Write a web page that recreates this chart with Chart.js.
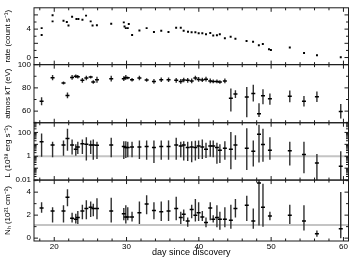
<!DOCTYPE html>
<html>
<head>
<meta charset="utf-8">
<script src="https://cdn.jsdelivr.net/npm/chart.js@4/dist/chart.umd.min.js"></script>
<style>
html, body { margin: 0; padding: 0; background: #fff; }
</style>
</head>
<body>
<canvas id="c" width="354" height="259"></canvas>
<script>
// light curve (top panel)
const lcDays = [18.26, 18.26, 19.77, 19.77, 21.28, 21.74, 21.97, 22.47, 23.07, 23.34, 23.9, 24.4, 25.04, 25.3, 25.9,
  27.88, 29.62, 29.72, 29.9, 30.17, 30.31, 30.77, 31.78, 32.78, 33.79, 34.8, 35.8, 36.86, 37.5, 37.9, 38.5, 39.0,
  39.52, 39.98, 40.48, 40.99, 41.58, 41.99, 42.5, 42.9, 43.6, 44.4, 45.06, 46.6, 47.5, 48.3, 48.85, 49.7, 49.97,
  52.58, 54.55, 56.34, 59.63];
const lcRate = [4.14, 3.18, 5.95, 5.09, 5.18, 5.0, 4.5, 5.73, 5.41, 5.41, 5.32, 5.9, 5.09, 4.5, 4.55,
  4.77, 4.95, 4.36, 4.14, 4.14, 4.73, 3.18, 3.82, 4.14, 3.59, 3.77, 3.59, 4.18, 4.18, 3.77, 3.64, 3.55,
  3.55, 3.41, 3.41, 3.27, 3.45, 3.09, 3.14, 3.27, 2.73, 2.91, 2.64, 2.32, 2.23, 1.73, 1.91, 1.18, 1.05,
  1.41, 0.64, 0.32, 0.05];

// spectral fits (lower three panels)
const spDays = [18.25, 19.77, 21.28, 21.83, 22.47, 22.98, 23.26, 23.89, 24.44, 25.04, 25.4, 25.91, 27.88,
  29.62, 29.9, 30.17, 30.76, 31.78, 32.78, 33.79, 34.8, 35.81, 36.87, 37.5, 37.91, 38.46, 39.01, 39.52,
  39.97, 40.48, 40.99, 41.58, 41.99, 42.5, 42.91, 43.6, 44.43, 45.06, 46.63, 47.53, 48.32, 48.87, 49.83,
  52.58, 54.54, 56.33, 59.63];

const ktVal = [68.5, 88.7, 84.2, 73.5, 89, 90, 89.5, 86.5, 88.4, 89.3, 85, 87, 87.9, 87.9, 89, 88.7, 87, 88.4,
  86.8, 85.6, 87, 87, 86.5, 85.6, 86.8, 86.5, 86, 88.5, 87.3, 86.8, 87.5, 86, 85.6, 85.6, 85, 86,
  71, 74.7, 72.1, 75.2, 57.8, 73.2, 70.7, 72.7, 68.5, 72.4, 59.7];
const ktLow = [65, 86.5, 83, 71, 87, 88.5, 88, 84.5, 86.5, 88, 83.5, 84.5, 85.5, 86, 87, 87.5, 85.5, 86.5,
  85.3, 83.6, 85, 85, 84.5, 83.6, 84.8, 84.5, 84, 86.5, 85.3, 85, 85.5, 84, 84, 84, 83.5, 84,
  59.7, 71.4, 54.7, 68.2, 55, 66, 65.4, 67.7, 64, 67.9, 53.6];
const ktHigh = [72, 91, 85.5, 76, 91, 91.5, 91, 88.5, 90.5, 90.5, 86.5, 89.5, 90.5, 90, 91, 89.5, 88.5, 90.5,
  88.3, 87.6, 89, 89, 88.5, 87.6, 88.8, 88.5, 88, 90.5, 89.3, 88.8, 89.5, 88, 87.2, 87.2, 86.5, 88,
  79.4, 78, 80.8, 82.8, 66.8, 78.9, 75.2, 77.7, 73, 76.9, 66.2];

const lumVal = [16.6, 8.9, 8.9, 31, 8.9, 3.9, 6.0, 11.2, 10, 8.9, 8.9, 8.3, 8.9, 6.5, 5.4, 5.4, 6.0, 6.0,
  6.5, 5.4, 6.5, 6.5, 8.9, 7.2, 8.9, 5.4, 6.0, 5.4, 7.2, 6.0, 3.9, 7.2, 7.2, 5.4, 3.2, 4.8,
  3.9, 8.9, 4.8, 2.6, 70, 9.5, 3.2, 2.9, 1.4, 0.27, 0.145];
const lumLow = [0.93, 0.83, 1.12, 2.9, 1.4, 1.1, 1.55, 1.55, 0.45, 1.55, 0.5, 0.6, 0.83, 0.6, 0.72, 0.83, 0.83, 0.6,
  0.5, 0.27, 0.5, 0.5, 0.5, 0.83, 0.45, 0.4, 0.32, 0.45, 0.6, 0.6, 0.72, 0.93, 0.83, 0.24, 0.27, 0.5,
  0.08, 0.5, 0.07, 0.14, 0.3, 0.35, 0.5, 0.17, 0.037, 0.01, 0.01];
const lumHigh = [83, 16.6, 21, 200, 26, 10, 16.6, 26, 40, 21, 26, 16.6, 35, 18.6, 18.6, 16.6, 16.6, 21,
  21, 21, 21, 21, 35, 16.6, 18.6, 16.6, 18.6, 20, 21, 26, 13.8, 21, 21, 13.8, 10, 18.6,
  107, 58, 224, 21, 450, 200, 40, 16.6, 16.6, 1.55, 2.6];

const nhVal = [2.63, 2.35, 2.35, 3.55, 1.73, 1.65, 1.79, 2.35, 2.57, 2.68, 2.57, 2.57, 2.35, 2.12, 1.84, 1.84,
  1.84, 2.2, 2.96, 2.4, 2.29, 2.35, 2.57, 1.79, 2.07, 1.5, 2.49, 2.0, 2.2, 1.84, 1.37, 2.63, 1.65, 1.79,
  1.65, 1.65, 1.56, 2.57, 2.85, 1.5, 4.8, 2.68, 1.93, 2.0, 1.5, 0.39, 0.81];
const nhLow = [2.2, 1.37, 1.37, 2.77, 1.37, 1.28, 1.23, 1.65, 1.65, 1.84, 1.9, 1.65, 1.37, 1.56, 1.28, 1.56,
  1.45, 1.23, 2.07, 1.65, 1.5, 1.5, 1.56, 1.23, 1.5, 1.0, 1.73, 1.45, 1.5, 1.5, 0.95, 1.56, 1.37, 0.95,
  0.73, 0.95, 0.81, 1.79, 1.5, 0.81, 1.09, 1.0, 1.56, 1.23, 0.67, 0.11, 0.0];
const nhHigh = [3.13, 2.68, 2.85, 4.25, 2.2, 2.12, 2.35, 2.9, 3.3, 3.18, 3.0, 3.46, 3.52, 2.63, 2.85, 2.68,
  2.29, 3.18, 3.74, 3.13, 3.18, 3.3, 3.6, 2.29, 2.49, 1.79, 2.9, 3.4, 3.13, 2.35, 1.79, 3.13, 2.0, 2.85,
  2.29, 2.68, 2.9, 3.4, 3.69, 2.57, 5.3, 4.72, 2.29, 2.9, 2.85, 0.67, 4.02];

const lumRef = 1;
const nhRef = 1.15;

// ticks
const dayTicks = [20, 30, 40, 50, 60];
const dayMinor = [18, 22, 24, 26, 28, 32, 34, 36, 38, 42, 44, 46, 48, 52, 54, 56, 58];
const rateTicks = [0, 2, 4, 6];
const rateMinor = [1, 3, 5];
const ktTicks = [60, 80, 100];
const ktMinor = [70, 90];
const lumTicks = [0.01, 0.1, 1, 10, 100];
const nhTicks = [0, 2, 4];
const nhMinor = [1, 3, 5];

const lumMinor = [];
lumTicks.forEach(d => { for (let k = 2; k <= 9; k++) lumMinor.push(d * k); });

const FONT = "'Liberation Sans', Arial, sans-serif";

const pts = (xs, ys) => xs.map((x, i) => ({x: x, y: ys[i]}));
const fixTicks = list => scale => { scale.ticks = list.map(v => ({value: v})); };

function yAxis(min, max, ticks, title, weight, stackWeight, type) {
  return {
    type: type || 'linear',
    position: 'left',
    stack: 'panels',
    stackWeight: stackWeight,
    weight: weight,
    min: min,
    max: max,
    grid: {display: false, drawTicks: false},
    border: {display: false},
    afterBuildTicks: fixTicks(ticks),
    afterFit: s => { s.width = 34; },
    ticks: {
      font: {family: FONT, size: 8},
      color: '#000',
      padding: 3,
      callback: v => String(v)
    },
    title: {
      display: true,
      text: title,
      font: {family: FONT, size: 8},
      color: '#000',
      padding: {top: 3, bottom: 0}
    }
  };
}

const frame = {
  id: 'frame',
  beforeDatasetsDraw(chart) {
    const ctx = chart.ctx;
    const x = chart.scales.x;
    // reference lines
    [['yLum', lumRef], ['yNH', nhRef]].forEach(([id, v]) => {
      const s = chart.scales[id];
      const py = s.getPixelForValue(v);
      ctx.save();
      ctx.strokeStyle = '#c4c4c4';
      ctx.lineWidth = 2;
      ctx.beginPath();
      ctx.moveTo(x.left, py);
      ctx.lineTo(x.right, py);
      ctx.stroke();
      ctx.restore();
    });
    // error bars
    chart.data.datasets.forEach(ds => {
      if (!ds.lo) return;
      const s = chart.scales[ds.yAxisID];
      ctx.save();
      ctx.beginPath();
      ctx.rect(x.left, s.top, x.right - x.left, s.bottom - s.top);
      ctx.clip();
      ctx.strokeStyle = '#303030';
      ctx.lineWidth = 1.4;
      ds.data.forEach((p, j) => {
        const px = x.getPixelForValue(p.x);
        ctx.beginPath();
        ctx.moveTo(px, s.getPixelForValue(ds.lo[j]));
        ctx.lineTo(px, s.getPixelForValue(ds.hi[j]));
        ctx.stroke();
      });
      ctx.restore();
    });
  },
  afterDraw(chart) {
    const ctx = chart.ctx;
    const x = chart.scales.x;
    const panels = [
      ['yRate', rateTicks, rateMinor],
      ['yKT', ktTicks, ktMinor],
      ['yLum', lumTicks, lumMinor],
      ['yNH', nhTicks, nhMinor]
    ];
    ctx.save();
    ctx.strokeStyle = '#1a1a1a';
    ctx.lineWidth = 1;
    panels.forEach(([id, major, minor]) => {
      const s = chart.scales[id];
      const t = s.top, b = s.bottom, l = x.left, r = x.right;
      ctx.strokeRect(l, t, r - l, b - t);
      ctx.beginPath();
      const xt = (v, len) => {
        const px = x.getPixelForValue(v);
        ctx.moveTo(px, t); ctx.lineTo(px, t + len);
        ctx.moveTo(px, b); ctx.lineTo(px, b - len);
      };
      dayTicks.forEach(v => xt(v, 4));
      dayMinor.forEach(v => xt(v, 2.5));
      const yt = (v, len) => {
        const py = s.getPixelForValue(v);
        if (py < t - 0.5 || py > b + 0.5) return;
        ctx.moveTo(l, py); ctx.lineTo(l + len, py);
        ctx.moveTo(r, py); ctx.lineTo(r - len, py);
      };
      major.forEach(v => yt(v, 4));
      minor.forEach(v => yt(v, 2.5));
      ctx.stroke();
    });
    ctx.restore();
  }
};

new Chart(document.getElementById('c'), {
  type: 'scatter',
  data: {
    datasets: [
      {
        data: pts(lcDays, lcRate),
        yAxisID: 'yRate',
        pointStyle: 'rect',
        pointRadius: 1.4,
        backgroundColor: '#000',
        borderWidth: 0
      },
      {
        data: pts(spDays, ktVal),
        lo: ktLow, hi: ktHigh,
        yAxisID: 'yKT',
        pointStyle: 'line',
        pointRadius: 2,
        borderColor: '#000',
        borderWidth: 1.5
      },
      {
        data: pts(spDays, lumVal),
        lo: lumLow, hi: lumHigh,
        yAxisID: 'yLum',
        pointStyle: 'line',
        pointRadius: 2,
        borderColor: '#000',
        borderWidth: 1.5
      },
      {
        data: pts(spDays, nhVal),
        lo: nhLow, hi: nhHigh,
        yAxisID: 'yNH',
        pointStyle: 'line',
        pointRadius: 2,
        borderColor: '#000',
        borderWidth: 1.5
      }
    ]
  },
  options: {
    responsive: false,
    animation: false,
    devicePixelRatio: 1,
    layout: {padding: {top: 1, right: 3, left: 0, bottom: 0}},
    plugins: {legend: {display: false}, tooltip: {enabled: false}},
    scales: {
      x: {
        type: 'linear',
        position: 'bottom',
        min: 17.2,
        max: 60.7,
        grid: {display: false, drawTicks: false},
        border: {display: false},
        afterBuildTicks: fixTicks(dayTicks),
        afterFit: s => { s.height = 18; },
        ticks: {font: {family: FONT, size: 8}, color: '#000', padding: 1, maxRotation: 0},
        title: {
          display: true,
          text: 'day since discovery',
          font: {family: FONT, size: 9},
          color: '#000',
          padding: {top: 0, bottom: 1}
        }
      },
      yRate: yAxis(-1, 7, rateTicks, 'rate (count s\u207B\u00B9)', 4, 58.5),
      yKT: yAxis(50, 100, ktTicks, 'atmos kT (eV)', 3, 59.8),
      yLum: yAxis(0.01, 650, lumTicks, 'L (10\u00B3\u2078 erg s\u207B\u00B9)', 2, 59, 'logarithmic'),
      yNH: yAxis(-0.25, 5.05, nhTicks, 'N\u2095 (10\u00B2\u00B9 cm\u207B\u00B2)', 1, 62.7)
    }
  },
  plugins: [frame]
});
</script>
</body>
</html>
